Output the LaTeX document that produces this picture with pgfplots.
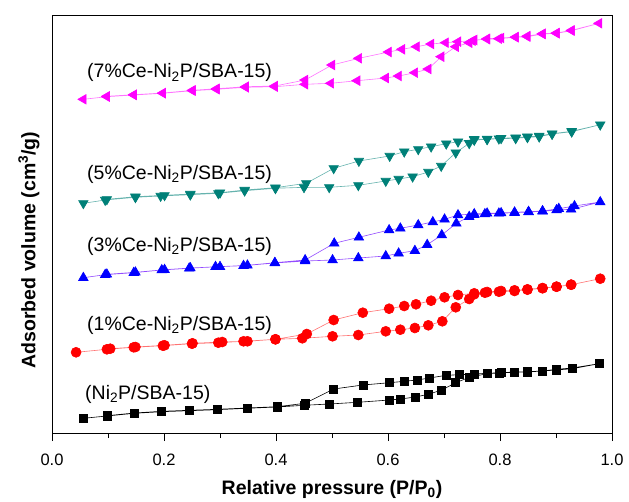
\documentclass[border=0pt]{standalone}
\usepackage{fontspec}
\setmainfont{Liberation Sans}
\usepackage{pgfplots}
\pgfplotsset{compat=1.18}
\definecolor{teal2}{RGB}{0,128,120}
\definecolor{mag}{RGB}{255,0,255}

\begin{document}
\begin{tikzpicture}
\begin{axis}[
  name=ax,
  scale only axis,
  width=560pt, height=418pt,
  xmin=0, xmax=1, ymin=0, ymax=418,
  xtick={0,0.2,0.4,0.6,0.8,1.0},
  minor xtick={0.1,0.3,0.5,0.7,0.9},
  xticklabels={0.0,0.2,0.4,0.6,0.8,1.0},
  ytick=\empty,
  xtick pos=bottom,
  tick align=outside,
  major tick length=8pt, minor tick length=5pt,
  every tick/.style={black, line width=0.8pt},
  axis line style={line width=0.8pt},
  /pgf/number format/assume math mode=true,
  tick label style={font=\fontsize{16.5}{18}\selectfont},
  xticklabel style={yshift=-9pt},
  xlabel={\bfseries Relative pressure (P/P\textsubscript{0})},
  ylabel={\bfseries Adsorbed volume (cm\textsuperscript{3}/g)},
  label style={font=\fontsize{19.5}{21}\selectfont},
  xlabel style={yshift=-8pt},
  ylabel style={yshift=1pt, xshift=-26pt},
  clip=false,
]
% Ni2P/SBA-15
\addplot[black, line width=0.6pt, mark=square*, mark size=4pt, mark options={solid}] coordinates {
  (0.056,14.7) (0.098,17.0) (0.147,19.7) (0.196,21.3) (0.245,22.3) (0.295,23.3)
  (0.348,24.7) (0.402,26.0) (0.450,27.7) (0.495,29.0) (0.546,30.7) (0.603,33.0)
  (0.622,34.0) (0.649,36.0) (0.672,38.7) (0.696,43.0) (0.721,50.3) (0.745,55.7)
  (0.777,59.3) (0.798,60.0) (0.826,60.7) (0.849,61.0) (0.876,62.0) (0.901,63.0)
  (0.929,64.3) (0.977,69.3)
  (0.929,65.0) (0.901,63.7) (0.876,62.0) (0.849,61.3) (0.826,61.0) (0.802,60.3)
  (0.777,59.7) (0.754,59.0) (0.728,58.3) (0.704,57.7) (0.674,55.0) (0.652,53.0)
  (0.629,51.7) (0.603,50.3) (0.555,48.0) (0.503,44.0) (0.452,29.7) (0.402,26.3)
  (0.348,25.0) (0.295,23.7) (0.245,22.7) (0.196,21.7) (0.147,20.0) (0.098,17.3)};
% 1% Ce
\addplot[red!55, line width=0.6pt, mark=*, mark size=5pt, mark options={red, fill=red}] coordinates {
  (0.043,80.7) (0.098,83.7) (0.146,85.7) (0.198,87.3) (0.250,89.3) (0.297,90.3)
  (0.342,91.7) (0.399,93.7) (0.447,94.7) (0.501,96.7) (0.547,98.0) (0.596,101.7)
  (0.622,103.3) (0.648,105.0) (0.672,107.7) (0.697,111.7) (0.721,125.7) (0.745,134.0)
  (0.754,138.7) (0.773,140.3) (0.798,141.3) (0.826,142.0) (0.849,143.3) (0.876,144.7)
  (0.901,146.3) (0.927,148.3) (0.979,154.3)
  (0.927,148.3) (0.901,146.3) (0.876,145.0) (0.849,143.7) (0.826,142.7) (0.802,142.0)
  (0.777,141.0) (0.754,139.7) (0.725,138.0) (0.701,135.7) (0.677,132.3) (0.650,128.7)
  (0.629,127.0) (0.602,124.3) (0.555,120.3) (0.503,113.0) (0.455,99.0) (0.399,93.7)
  (0.349,91.7) (0.304,91.0) (0.251,89.7) (0.201,87.7) (0.149,86.0) (0.104,84.3)};
% 3% Ce
\addplot[blue!60!magenta!70, line width=0.6pt, mark=triangle*, mark size=5.5pt, mark options={blue, fill=blue}] coordinates {
  (0.056,155.3) (0.095,158.3) (0.146,160.3) (0.196,163.0) (0.245,164.7) (0.292,166.3)
  (0.342,167.3) (0.398,170.0) (0.452,172.0) (0.501,173.0) (0.547,175.0) (0.596,177.0)
  (0.619,179.7) (0.648,182.3) (0.670,188.3) (0.696,198.0) (0.722,209.7) (0.745,216.3)
  (0.754,218.3) (0.773,219.0) (0.798,219.7) (0.826,220.3) (0.851,221.0) (0.876,221.7)
  (0.901,223.0) (0.927,223.7) (0.979,231.0)
  (0.933,227.0) (0.905,224.3) (0.876,222.0) (0.851,221.3) (0.826,220.7) (0.802,220.0)
  (0.777,219.7) (0.754,219.0) (0.725,218.0) (0.701,213.7) (0.680,211.0) (0.654,208.0)
  (0.622,204.7) (0.602,203.0) (0.548,195.7) (0.504,189.7) (0.452,173.0) (0.398,170.3)
  (0.349,167.7) (0.300,166.3) (0.247,165.0) (0.201,163.3) (0.149,160.7) (0.098,158.7)};
% 5% Ce
\addplot[teal2!60, line width=0.6pt, mark=triangle*, mark size=5.5pt, mark options={teal2, fill=teal2, rotate=180}] coordinates {
  (0.056,229.7) (0.095,233.0) (0.149,235.7) (0.194,237.0) (0.247,238.3) (0.297,239.7)
  (0.344,242.3) (0.399,244.7) (0.450,245.7) (0.495,245.7) (0.547,247.7) (0.596,252.0)
  (0.619,254.0) (0.644,256.3) (0.672,261.0) (0.695,267.0) (0.721,280.3) (0.745,289.7)
  (0.754,293.0) (0.777,293.7) (0.798,294.3) (0.828,294.7) (0.849,295.7) (0.870,296.3)
  (0.893,299.0) (0.928,301.3) (0.979,308.3)
  (0.928,301.7) (0.893,299.3) (0.870,297.0) (0.849,296.3) (0.828,295.3) (0.802,294.7)
  (0.777,294.0) (0.754,293.7) (0.725,291.3) (0.704,289.3) (0.677,286.3) (0.654,283.7)
  (0.629,281.3) (0.603,277.0) (0.548,272.0) (0.503,264.7) (0.454,249.7) (0.399,245.3)
  (0.344,243.0) (0.300,240.3) (0.247,239.0) (0.201,237.7) (0.149,236.3) (0.098,233.7)};
% 7% Ce
\addplot[mag!55, line width=0.6pt, mark=triangle*, mark size=5.5pt, mark options={mag, fill=mag, rotate=90}] coordinates {
  (0.056,333.7) (0.098,336.3) (0.146,338.0) (0.198,339.7) (0.251,342.3) (0.294,343.7)
  (0.346,345.7) (0.398,346.3) (0.452,348.7) (0.498,349.7) (0.545,352.3) (0.596,355.0)
  (0.619,357.0) (0.648,360.3) (0.672,364.0) (0.695,376.3) (0.721,386.3) (0.745,390.3)
  (0.754,393.0) (0.777,393.7) (0.798,394.3) (0.828,395.7) (0.849,396.3) (0.876,399.0)
  (0.901,399.7) (0.928,402.3) (0.977,409.7)
  (0.928,402.7) (0.901,400.0) (0.876,399.3) (0.849,397.0) (0.828,396.0) (0.802,395.0)
  (0.777,394.3) (0.751,392.3) (0.725,391.3) (0.703,390.3) (0.677,389.0) (0.651,386.3)
  (0.625,383.7) (0.601,381.0) (0.548,374.7) (0.500,368.0) (0.452,353.0) (0.398,347.0)
  (0.346,346.3) (0.294,344.3) (0.251,342.7) (0.198,340.0) (0.146,338.3) (0.098,336.7)};

\begin{scope}[every node/.style={font=\fontsize{19.5}{21}\selectfont, anchor=base west, inner sep=0pt}]
\node at (axis cs:0.0625,355) {(7\%Ce-Ni\textsubscript{2}P/SBA-15)};
\node at (axis cs:0.0625,254) {(5\%Ce-Ni\textsubscript{2}P/SBA-15)};
\node at (axis cs:0.0625,182) {(3\%Ce-Ni\textsubscript{2}P/SBA-15)};
\node at (axis cs:0.0625,103) {(1\%Ce-Ni\textsubscript{2}P/SBA-15)};
\node at (axis cs:0.059,34) {(Ni\textsubscript{2}P/SBA-15)};
\end{scope}
\end{axis}
\path ([shift={(-52pt,-66pt)}]ax.south west) rectangle ([shift={(17pt,15pt)}]ax.north east);
\end{tikzpicture}
\end{document}
